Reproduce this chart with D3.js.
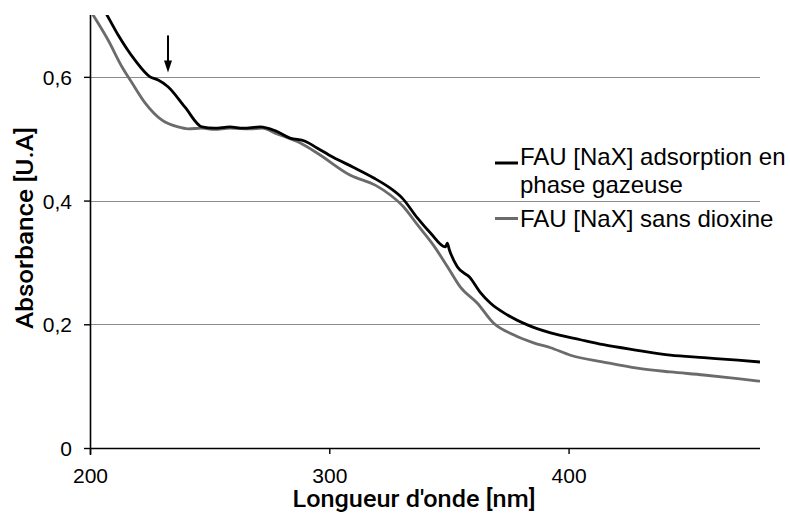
<!DOCTYPE html>
<html>
<head>
<meta charset="utf-8">
<script src="https://cdn.jsdelivr.net/npm/d3@7"></script>
<style>
  html, body { margin: 0; padding: 0; background: #fff; }
  svg { display: block; }
  text { font-family: "Liberation Sans", Arial, sans-serif; fill: #000; }
</style>
</head>
<body>
<svg id="chart" width="790" height="513"></svg>
<script>
// ---- Data ----
const seriesNames = ["FAU [NaX] adsorption en phase gazeuse", "FAU [NaX] sans dioxine"];

const wlAdsorption = [200, 207.1, 211.7, 218.8, 225.1, 228.5, 232.6, 239.7, 246.8, 252, 258.5, 264, 271.1, 277.3, 283.6, 289.9, 294.9, 301.6, 310.0, 318.4, 325.5, 330.5, 336.8, 342.2, 348.5, 349.3, 350.2, 353.5, 358.9, 363, 367.4, 374.5, 382.8, 392.5, 405.0, 414.6, 428.7, 442.5, 456.5, 470.7, 480];
const absAdsorption = [0.750, 0.700, 0.668, 0.627, 0.600, 0.595, 0.584, 0.551, 0.519, 0.517, 0.519, 0.517, 0.519, 0.513, 0.501, 0.496, 0.485, 0.470, 0.454, 0.437, 0.420, 0.404, 0.372, 0.348, 0.325, 0.331, 0.320, 0.293, 0.275, 0.252, 0.234, 0.215, 0.199, 0.186, 0.175, 0.167, 0.158, 0.150, 0.146, 0.142, 0.139];

const wlReference = [200, 201.3, 207.5, 213.4, 217.6, 223.0, 230.1, 236.8, 241, 246.8, 252, 258.5, 266.9, 272, 277.3, 287.9, 294.9, 308.8, 319.2, 325.5, 331.0, 336.8, 343.5, 349.4, 354.8, 361.9, 368.6, 377.0, 385.4, 392.5, 400.8, 414.6, 428.7, 442.5, 456.5, 470.7, 480];
const absReference = [0.708, 0.700, 0.660, 0.616, 0.590, 0.558, 0.530, 0.519, 0.516, 0.517, 0.515, 0.517, 0.516, 0.517, 0.509, 0.493, 0.477, 0.441, 0.425, 0.409, 0.390, 0.361, 0.328, 0.293, 0.260, 0.234, 0.202, 0.183, 0.170, 0.162, 0.150, 0.139, 0.129, 0.123, 0.118, 0.112, 0.108];

const xTicks = [200, 300, 400];
const yTicks = [0, 0.2, 0.4, 0.6];
const yTickLabels = ["0", "0,2", "0,4", "0,6"];
const gridValues = [0.2, 0.4, 0.6];

// annotation arrow (wavelength, absorbance from -> to)
const arrowWl = 232.6;
const arrowFrom = 0.667;
const arrowTo = 0.607;

const xTitle = "Longueur d'onde [nm]";
const yTitle = "Absorbance [U.A]";
const legendLines = [["FAU [NaX] adsorption en", "phase gazeuse"], ["FAU [NaX] sans dioxine"]];
const seriesColors = ["#000000", "#6b6b6b"];

// ---- Layout ----
const svg = d3.select("#chart");
const plot = { left: 90, right: 760, top: 15, bottom: 448 };

const x = d3.scaleLinear().domain([200, 480]).range([plot.left, plot.right]);
const y = d3.scaleLinear().domain([0, 0.7]).range([plot.bottom, plot.top]);

// clip
svg.append("defs").append("clipPath").attr("id", "plotclip")
  .append("rect")
  .attr("x", plot.left).attr("y", plot.top)
  .attr("width", plot.right - plot.left).attr("height", plot.bottom - plot.top);

// gridlines
svg.append("g").selectAll("line").data(gridValues).join("line")
  .attr("x1", plot.left).attr("x2", plot.right)
  .attr("y1", d => Math.round(y(d)) + 0.5).attr("y2", d => Math.round(y(d)) + 0.5)
  .attr("stroke", "#8c8c8c").attr("stroke-width", 1);

// series
const line = d3.line().curve(d3.curveMonotoneX).x(d => x(d[0])).y(d => y(d[1]));
const series = [
  d3.zip(wlReference, absReference),
  d3.zip(wlAdsorption, absAdsorption)
];
const colorsDraw = [seriesColors[1], seriesColors[0]];
const gLines = svg.append("g").attr("clip-path", "url(#plotclip)");
series.forEach((s, i) => {
  gLines.append("path").datum(s)
    .attr("d", line)
    .attr("fill", "none")
    .attr("stroke", colorsDraw[i])
    .attr("stroke-width", 2.8)
    .attr("stroke-linejoin", "round");
});

// axes
const xAxis = d3.axisBottom(x).tickValues(xTicks).tickSize(6).tickFormat(d3.format("d"));
const gx = svg.append("g").attr("transform", `translate(0,${plot.bottom})`).call(xAxis);
gx.select(".domain").attr("stroke", "#000").attr("stroke-width", 1.6)
  .attr("d", `M${plot.left},0.5H${plot.right}`);
gx.selectAll(".tick line").attr("stroke", "#000").attr("stroke-width", 1.4);
gx.selectAll(".tick text").attr("font-size", 21).attr("y", 35).attr("dy", 0)
  .style("font-family", "'Liberation Sans', Arial, sans-serif").attr("fill", "#000");

const yAxis = d3.axisLeft(y).tickValues(yTicks).tickSize(6).tickFormat((d, i) => yTickLabels[i]);
const gy = svg.append("g").attr("transform", `translate(${plot.left},0)`).call(yAxis);
gy.select(".domain").attr("stroke", "#000").attr("stroke-width", 1.6)
  .attr("d", `M0.5,${plot.top}V${plot.bottom + 7}`);
gy.selectAll(".tick line").attr("stroke", "#000").attr("stroke-width", 1.4);
gy.selectAll(".tick text").attr("font-size", 21).attr("x", -18).attr("dy", "0.36em")
  .style("font-family", "'Liberation Sans', Arial, sans-serif").attr("fill", "#000");

// axis titles
svg.append("text")
  .attr("x", 414).attr("y", 507)
  .attr("text-anchor", "middle")
  .style("font-family", "Roboto, 'Liberation Sans', sans-serif")
  .attr("font-weight", 500).attr("font-size", 23)
  .attr("textLength", 243).attr("lengthAdjust", "spacingAndGlyphs")
  .text(xTitle);

svg.append("text")
  .attr("transform", "translate(33,228) rotate(-90)")
  .attr("text-anchor", "middle")
  .style("font-family", "Roboto, 'Liberation Sans', sans-serif")
  .attr("font-weight", 500).attr("font-size", 23)
  .attr("textLength", 202).attr("lengthAdjust", "spacingAndGlyphs")
  .text(yTitle);

// arrow annotation
const ax = x(arrowWl);
svg.append("line")
  .attr("x1", ax).attr("x2", ax)
  .attr("y1", y(arrowFrom)).attr("y2", y(arrowTo) - 10)
  .attr("stroke", "#000").attr("stroke-width", 2);
svg.append("path")
  .attr("d", `M${ax - 4},${y(arrowTo) - 12}L${ax + 4},${y(arrowTo) - 12}L${ax},${y(arrowTo)}Z`)
  .attr("fill", "#000");

// legend
const legend = svg.append("g");
const legendX = 495, legendTextX = 520;
const legendRows = [
  { markerY: 163, baselines: [165, 193] },
  { markerY: 218.5, baselines: [227] }
];
legendRows.forEach((r, i) => {
  legend.append("line")
    .attr("x1", legendX).attr("x2", legendX + 23)
    .attr("y1", r.markerY).attr("y2", r.markerY)
    .attr("stroke", seriesColors[i]).attr("stroke-width", 3);
  legendLines[i].forEach((t, j) => {
    legend.append("text")
      .attr("x", legendTextX).attr("y", r.baselines[j])
      .attr("font-size", 24)
      .text(t);
  });
});
</script>
</body>
</html>
